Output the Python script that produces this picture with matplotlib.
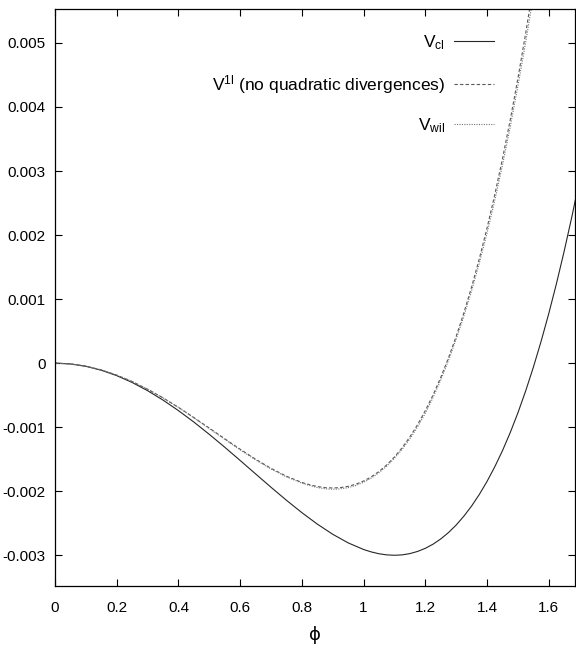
import matplotlib
matplotlib.use("Agg")
import matplotlib.pyplot as plt

# fonts: helvetica-ish like the gnuplot output
plt.rcParams['font.family'] = ['Liberation Sans', 'DejaVu Sans']
plt.rcParams['mathtext.fontset'] = 'custom'
plt.rcParams['mathtext.rm'] = 'Liberation Sans'
plt.rcParams['mathtext.it'] = 'Liberation Sans'

# data (denser where the curves bend)
phi_cl = [0.0, 0.05, 0.1, 0.15, 0.2, 0.25, 0.3, 0.35, 0.4, 0.45, 0.5, 0.55, 0.6,
          0.65, 0.7, 0.75, 0.8, 0.85, 0.9, 0.95, 1.0, 1.025, 1.05, 1.075, 1.1,
          1.125, 1.15, 1.175, 1.2, 1.225, 1.25, 1.275, 1.3, 1.325, 1.35, 1.375,
          1.4, 1.425, 1.45, 1.475, 1.5, 1.525, 1.55, 1.575, 1.6, 1.625, 1.65,
          1.675, 1.7]
v_cl = [0.0, -0.0000124, -0.0000494, -0.0001106, -0.0001951, -0.000302,
        -0.0004298, -0.0005768, -0.0007411, -0.0009203, -0.001112, -0.0013128,
        -0.0015199, -0.0017297, -0.0019382, -0.0021414, -0.0023347, -0.0025135,
        -0.0026726, -0.0028067, -0.00291, -0.002948, -0.0029766, -0.002994,
        -0.0030002, -0.002994, -0.0029741, -0.00294, -0.0028915, -0.002827,
        -0.0027451, -0.002646, -0.0025274, -0.002389, -0.0022306, -0.00205,
        -0.0018463, -0.001619, -0.0013664, -0.001086, -0.000776, -0.000436,
        -0.000065, 0.000338, 0.000774, 0.001244, 0.00175, 0.00229, 0.00287]

phi_q = [0.0, 0.05, 0.1, 0.15, 0.2, 0.25, 0.3, 0.35, 0.4, 0.45, 0.5, 0.55, 0.6,
         0.65, 0.7, 0.75, 0.8, 0.825, 0.85, 0.875, 0.9, 0.925, 0.95, 0.975, 1.0,
         1.025, 1.05, 1.075, 1.1, 1.125, 1.15, 1.175, 1.2, 1.225, 1.25, 1.275,
         1.3, 1.325, 1.35, 1.375, 1.4, 1.425, 1.45, 1.475, 1.5, 1.525, 1.55,
         1.575, 1.6]
v_1l = [0.0, -0.0000119, -0.0000475, -0.0001061, -0.0001866, -0.0002875,
        -0.0004069, -0.0005423, -0.0006908, -0.0008493, -0.0010139, -0.0011804,
        -0.0013443, -0.0015003, -0.0016429, -0.0017659, -0.0018629, -0.001899,
        -0.0019267, -0.001944, -0.0019497, -0.001943, -0.001924, -0.00189,
        -0.0018406, -0.001775, -0.0016908, -0.001588, -0.0014645, -0.00132,
        -0.0011517, -0.00096, -0.0007414, -0.000497, -0.0002224, 0.0000815,
        0.0004175, 0.000787, 0.0011909, 0.001632, 0.0021109, 0.002631,
        0.0031915, 0.003796, 0.0044474, 0.005146, 0.0058937, 0.006693, 0.0075461]
v_wil = [0.0, -0.0000119, -0.0000475, -0.0001061, -0.0001866, -0.0002875,
         -0.0004069, -0.0005423, -0.0006908, -0.0008543, -0.0010239, -0.0011904,
         -0.0013543, -0.0015103, -0.0016529, -0.0017759, -0.0018729, -0.001911,
         -0.0019417, -0.001962, -0.0019697, -0.001963, -0.001944, -0.00191,
         -0.0018606, -0.001795, -0.0017108, -0.001608, -0.0014845, -0.001345,
         -0.0011817, -0.000995, -0.0007814, -0.000537, -0.0002624, 0.0000415,
         0.0003775, 0.000737, 0.0011309, 0.001562, 0.0020309, 0.002541,
         0.0030915, 0.003686, 0.0043274, 0.005006, 0.0057337, 0.006513, 0.0073461]

xticks = [0, 0.2, 0.4, 0.6, 0.8, 1.0, 1.2, 1.4, 1.6]
xlabels = ['0', '0.2', '0.4', '0.6', '0.8', '1', '1.2', '1.4', '1.6']
yticks = [-0.003, -0.002, -0.001, 0, 0.001, 0.002, 0.003, 0.004, 0.005]
ylabels = ['-0.003', '-0.002', '-0.001', '0', '0.001', '0.002', '0.003', '0.004', '0.005']

fig = plt.figure(figsize=(5.76, 6.53), dpi=100)
ax = fig.add_axes([55 / 576, 1 - 586 / 653, 520 / 576, 577 / 653])

ax.plot(phi_cl, v_cl, color='0.15', lw=0.8, ls='-', label=r'V$_{\rm cl}$')
ax.plot(phi_q, v_1l, color='0.35', lw=0.8, ls=(0, (3, 2)),
        label=r'V$^{\rm 1l}$ (no quadratic divergences)')
ax.plot(phi_q, v_wil, color='0.45', lw=0.8, ls=(0, (1, 1.2)),
        label=r'V$_{\rm wil}$')

ax.set_xlim(0, 1.685)
ax.set_ylim(-0.00348, 0.00553)
ax.set_xticks(xticks)
ax.set_xticklabels(xlabels)
ax.set_yticks(yticks)
ax.set_yticklabels(ylabels)
ax.tick_params(direction='in', length=5, width=0.8, top=True, right=True,
               labelsize=11)
ax.tick_params(axis='x', pad=11)
ax.tick_params(axis='y', pad=6.5)
for s in ax.spines.values():
    s.set_linewidth(0.9)

ax.set_xlabel('ϕ', fontsize=13, family='DejaVu Sans', labelpad=8)

leg = ax.legend(loc='upper right', bbox_to_anchor=(0.844, 0.958), frameon=False,
                markerfirst=False, handlelength=2.3, handletextpad=0.5,
                labelspacing=1.2, borderpad=0, borderaxespad=0, fontsize=12.5)

fig.savefig('out.png', dpi=100)
